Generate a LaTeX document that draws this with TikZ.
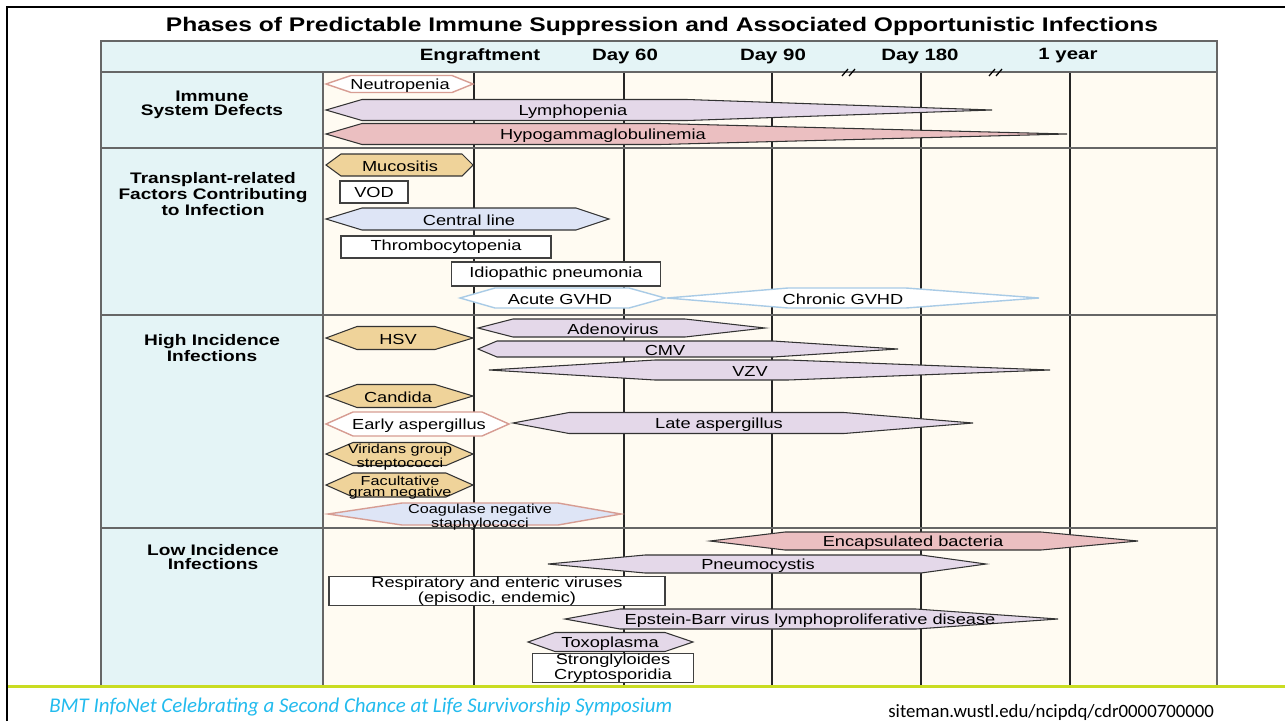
\documentclass[tikz,border=0pt]{standalone}
\usepackage{fontspec}
\setmainfont{Liberation Sans}[FakeStretch=1.25]
\newfontfamily\slidefont{Carlito}
\usepackage{tikz}
\usetikzlibrary{positioning}
\definecolor{headcol}{HTML}{E4F4F6}
\definecolor{cream}{HTML}{FFFBF2}
\definecolor{lav}{HTML}{E4D8E9}
\definecolor{rose}{HTML}{EBBFC1}
\definecolor{tan}{HTML}{EFD39A}
\definecolor{sky}{HTML}{DEE5F6}
\definecolor{roseline}{HTML}{D79D93}
\definecolor{skyline}{HTML}{A9CBE6}
\definecolor{footcyan}{HTML}{22BBEE}
\definecolor{lime}{HTML}{C9DC21}
% one tapered bar: style, y, half height, left tip, top left, top right, right tip
\newcommand\hexbar[7]{\draw[#1] (#4,#2) -- (#5,#2-#3) -- (#6,#2-#3) -- (#7,#2) -- (#6,#2+#3) -- (#5,#2+#3) -- cycle;}

\begin{document}
\begin{tikzpicture}[x=0.02cm,y=-0.02cm,
 gridline/.style={line width=1pt,draw=black!85},
 rowline/.style={line width=1pt,draw=black!60},
 lavbar/.style={draw=black!80,fill=lav,line width=0.6pt},
 rosebar/.style={draw=black!80,fill=rose,line width=0.6pt},
 tanbar/.style={draw=black!80,fill=tan,line width=0.6pt},
 skybar/.style={draw=black!80,fill=sky,line width=0.6pt},
 openbar/.style={draw=roseline,fill=white,line width=0.8pt},
 gvhdbar/.style={draw=skyline,fill=white,line width=0.8pt},
 coagbar/.style={draw=roseline,fill=sky,line width=0.8pt},
 txt/.style={inner sep=0pt,yshift=-0.035cm,font=\fontsize{8.3}{7.2}\selectfont,align=center},
 small/.style={inner sep=0pt,yshift=-0.035cm,font=\fontsize{7.4}{6.3}\selectfont,align=center},
 boxtxt/.style={draw=black!75,fill=white,line width=0.8pt,inner sep=0pt,font=\fontsize{8.3}{7.2}\selectfont,align=center},
 rowlbl/.style={inner sep=0pt,font=\bfseries\fontsize{8.7}{8}\selectfont,align=center},
 dayhead/.style={inner sep=0pt,font=\bfseries\fontsize{9.3}{10}\selectfont}]
\useasboundingbox (0,0) rectangle (1285,721);
\fill[white] (0,0) rectangle (1285,721);
% slide frame
\draw[line width=1.6pt] (7,721) -- (7,7) -- (1285,7);
\node[inner sep=0pt,font=\bfseries\fontsize{11.2}{12}\selectfont] (title) at (662,26) {Phases of Predictable Immune Suppression and Associated Opportunistic Infections};
% table
\fill[headcol] (101,41) rectangle (1217,72);
\fill[headcol] (101,72) rectangle (323,685);
\fill[cream] (323,72) rectangle (1217,685);
\foreach \x in {474,624,772,921,1070} \draw[gridline] (\x,72) -- (\x,685);
\foreach \y in {72,148,315,528} \draw[rowline] (101,\y) -- (1217,\y);
\draw[rowline] (323,72) -- (323,685);
\draw[line width=1.2pt,draw=black!60] (101,685) -- (101,41) -- (1217,41) -- (1217,685);
\foreach \x in {842,989} {\draw[line width=0.7pt] (\x,76) -- (\x+6,69); \draw[line width=0.7pt] (\x+7,76) -- (\x+13,69);}
\node[dayhead] (engr) at (480,56) {Engraftment};
\node[dayhead] (d60) at (625,56) {Day 60};
\node[dayhead] (d90) at (773,56) {Day 90};
\node[dayhead] (d180) at (920,56) {Day 180};
\node[dayhead] (yr1) at (1068,56) {1 year};
% row labels
\node[rowlbl] (immune) at (212,105) {Immune\\System Defects};
\node[rowlbl] (transpl) at (213,194) {Transplant-related\\Factors Contributing\\to Infection};
\node[rowlbl] (high) at (212,348) {High Incidence\\Infections};
\node[rowlbl] (low) at (213,557) {Low Incidence\\Infections};
% immune system defects
\hexbar{openbar}{84}{8.5}{326}{351}{452}{473}
\node[txt] (neutro) at (400,84) {Neutropenia};
\hexbar{lavbar}{110}{10.5}{326}{362}{687}{992}
\node[txt] (lympho) at (573,110) {Lymphopenia};
\hexbar{rosebar}{134}{10.5}{326}{362}{660}{1067}
\node[txt] (hypogam) at (603,134) {Hypogammaglobulinemia};
% transplant-related factors
\hexbar{tanbar}{165}{11}{326}{341}{462}{473}
\node[txt] (mucos) at (400,165) {Mucositis};
\node[boxtxt,minimum width=68*0.02cm,minimum height=22*0.02cm] (vod) at (374,192) {VOD};
\hexbar{skybar}{219}{11}{326}{362}{576}{609}
\node[txt] (central) at (469,219) {Central line};
\node[boxtxt,minimum width=210*0.02cm,minimum height=22*0.02cm] (thrombo) at (446,247) {Thrombocytopenia};
\node[boxtxt,minimum width=209*0.02cm,minimum height=24*0.02cm] (idiopath) at (556,274) {Idiopathic pneumonia};
\hexbar{gvhdbar}{298}{10}{460}{495}{629}{665}
\node[txt] (agvhd) at (560,298) {Acute GVHD};
\hexbar{gvhdbar}{298}{10}{667}{788}{906}{1039}
\node[txt] (cgvhd) at (843,298) {Chronic GVHD};
% high incidence infections
\hexbar{tanbar}{338}{11.5}{326}{357}{435}{473}
\node[txt] (hsv) at (398,338) {HSV};
\hexbar{lavbar}{328}{9}{478}{513}{685}{765}
\node[txt] (adeno) at (613,328) {Adenovirus};
\hexbar{lavbar}{349}{8}{478}{497}{773}{898}
\node[txt] (cmv) at (665,349) {CMV};
\hexbar{lavbar}{370}{10}{489}{655}{788}{1050}
\node[txt] (vzv) at (750,370) {VZV};
\hexbar{tanbar}{396}{11.5}{326}{357}{435}{473}
\node[txt] (candida) at (398,396) {Candida};
\hexbar{openbar}{424}{12}{326}{353}{482}{509}
\node[txt] (earlyasp) at (419,424) {Early aspergillus};
\hexbar{lavbar}{423}{10.5}{513}{569}{844}{973}
\node[txt] (lateasp) at (719,423) {Late aspergillus};
\hexbar{tanbar}{454}{11.5}{326}{353}{446}{473}
\node[small] (viridans) at (400,455) {Viridans group\\streptococci};
\hexbar{tanbar}{485}{12}{326}{353}{446}{473}
\node[small] (facult) at (400,486) {Facultative\\gram negative};
\hexbar{coagbar}{514}{11}{328}{402}{558}{621}
\node[small] (coag) at (480,515) {Coagulase negative\\staphylococci};
% low incidence infections
\hexbar{rosebar}{541}{9}{710}{785}{1041}{1138}
\node[txt] (encaps) at (913,541) {Encapsulated bacteria};
\hexbar{lavbar}{564}{9}{548}{645}{921}{986}
\node[txt] (pneumo) at (758,564) {Pneumocystis};
\node[boxtxt,minimum width=336*0.02cm,minimum height=25*0.02cm] (resp) at (497,591) {Respiratory and enteric viruses\\(episodic, endemic)};
\hexbar{lavbar}{619}{10}{565}{620}{916}{1058}
\node[txt] (ebv) at (810,619) {Epstein-Barr virus lymphoproliferative disease};
\hexbar{lavbar}{642}{9.5}{528}{555}{665}{693}
\node[txt] (toxo) at (610,642) {Toxoplasma};
\node[boxtxt,minimum width=161*0.02cm,minimum height=25*0.02cm] (strongy) at (613,668) {Stronglyloides\\Cryptosporidia};
% slide footer
\fill[white] (9,686) rectangle (1285,721);
\draw[lime,line width=1.7pt] (8,686) -- (1285,686);
\node[anchor=west,inner sep=0pt,text=footcyan,font=\slidefont\itshape\fontsize{11.9}{12}\selectfont] (event) at (49,707) {BMT InfoNet Celebrating a Second Chance at Life Survivorship Symposium};
\node[anchor=west,inner sep=0pt,font=\slidefont\fontsize{10.7}{12}\selectfont] (source) at (888,712) {siteman.wustl.edu/ncipdq/cdr0000700000};
\end{tikzpicture}
\end{document}
